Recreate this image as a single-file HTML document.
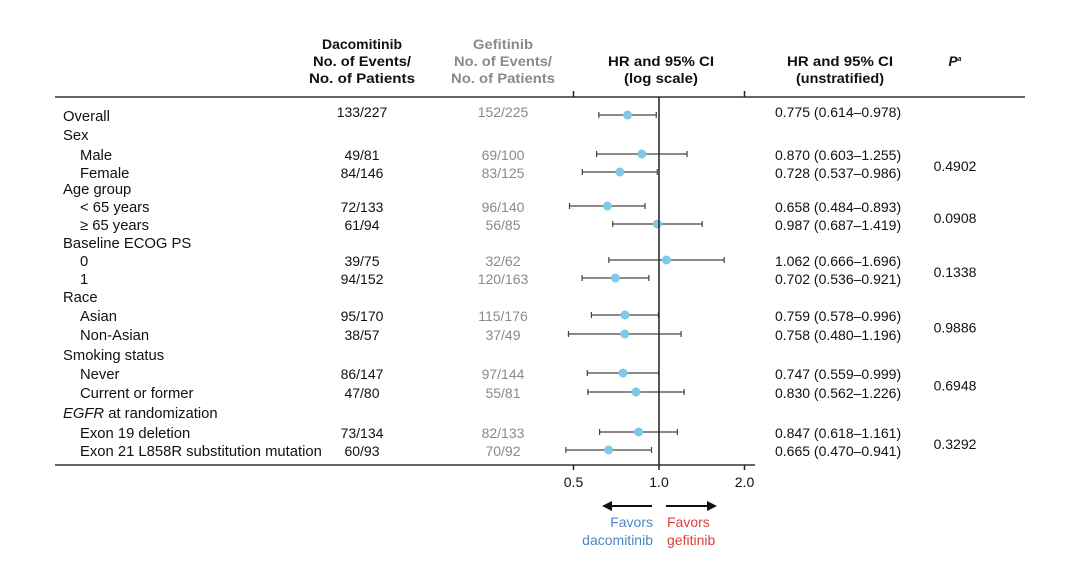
<!DOCTYPE html>
<html><head><meta charset="utf-8"><style>
body{margin:0;background:#fff;}
svg text{font-family:"Liberation Sans",Arial,sans-serif;font-size:14px;fill:#111;}
.lab{font-size:14.8px;}
.h{font-weight:bold;text-anchor:middle;font-size:13.5px;}
.g{fill:#8a8a8a;}
.c{text-anchor:middle;}
</style></head><body>
<svg id="chart" width="1080" height="566">
<g>
<text class="h" x="362" y="49" textLength="80" lengthAdjust="spacingAndGlyphs">Dacomitinib</text>
<text class="h" x="362" y="66" textLength="98" lengthAdjust="spacingAndGlyphs">No. of Events/</text>
<text class="h" x="362" y="83" textLength="106" lengthAdjust="spacingAndGlyphs">No. of Patients</text>
<text class="h g" x="503" y="49" textLength="60" lengthAdjust="spacingAndGlyphs">Gefitinib</text>
<text class="h g" x="503" y="66" textLength="98" lengthAdjust="spacingAndGlyphs">No. of Events/</text>
<text class="h g" x="503" y="83" textLength="104" lengthAdjust="spacingAndGlyphs">No. of Patients</text>
<text class="h" x="661" y="66" textLength="106" lengthAdjust="spacingAndGlyphs">HR and 95% CI</text>
<text class="h" x="661" y="83" textLength="74" lengthAdjust="spacingAndGlyphs">(log scale)</text>
<text class="h" x="840" y="66" textLength="106" lengthAdjust="spacingAndGlyphs">HR and 95% CI</text>
<text class="h" x="840" y="83" textLength="88" lengthAdjust="spacingAndGlyphs">(unstratified)</text>
<text class="h" x="955" y="66" style="font-style:italic">P<tspan font-size="7" dy="-5">a</tspan></text>
</g>
<line x1="55" y1="97" x2="1025" y2="97" stroke="#333" stroke-width="1.5"/>
<line x1="55" y1="465" x2="755" y2="465" stroke="#333" stroke-width="1.5"/>
<g id="rows"></g>
<g id="axis"></g>
<g>
<line x1="610" y1="506" x2="652" y2="506" stroke="#111" stroke-width="2"/>
<polygon points="602,506 612,501 612,511" fill="#111"/>
<line x1="666" y1="506" x2="708" y2="506" stroke="#111" stroke-width="2"/>
<polygon points="717,506 707,501 707,511" fill="#111"/>
<text x="653" y="527" text-anchor="end" style="fill:#4a86c5">Favors</text>
<text x="653" y="545" text-anchor="end" style="fill:#4a86c5">dacomitinib</text>
<text x="667" y="527" style="fill:#d9403a">Favors</text>
<text x="667" y="545" style="fill:#d9403a">gefitinib</text>
</g>
</svg>
<script>
const labels=["Overall","Sex","Male","Female","Age group","< 65 years","\u2265 65 years","Baseline ECOG PS","0","1","Race","Asian","Non-Asian","Smoking status","Never","Current or former","EGFR at randomization","Exon 19 deletion","Exon 21 L858R substitution mutation"];
const dacoCounts=["133/227","","49/81","84/146","","72/133","61/94","","39/75","94/152","","95/170","38/57","","86/147","47/80","","73/134","60/93"];
const gefiCounts=["152/225","","69/100","83/125","","96/140","56/85","","32/62","120/163","","115/176","37/49","","97/144","55/81","","82/133","70/92"];
const hr=[0.775,null,0.870,0.728,null,0.658,0.987,null,1.062,0.702,null,0.759,0.758,null,0.747,0.830,null,0.847,0.665];
const lo=[0.614,null,0.603,0.537,null,0.484,0.687,null,0.666,0.536,null,0.578,0.480,null,0.559,0.562,null,0.618,0.470];
const hi=[0.978,null,1.255,0.986,null,0.893,1.419,null,1.696,0.921,null,0.996,1.196,null,0.999,1.226,null,1.161,0.941];
const pvals=["0.4902","0.0908","0.1338","0.9886","0.6948","0.3292"];
const ticks=[0.5,1.0,2.0];
const rowY=[117,136,156,174,190,208,226,244,262,280,298,317,336,356,375,394,414,434,452];
const isHeader=[false,true,false,false,true,false,false,true,false,false,true,false,false,true,false,false,true,false,false];
const NS="http://www.w3.org/2000/svg";
const x=v=>659+85.5*Math.log2(v);
const rows=document.getElementById('rows'),axis=document.getElementById('axis');
function mk(tag,attrs,parent){const e=document.createElementNS(NS,tag);for(const k in attrs)e.setAttribute(k,attrs[k]);parent.appendChild(e);return e;}
function fmt(v){return v.toFixed(3);}
labels.forEach((lab,i)=>{
 const y=rowY[i];
 const t=mk('text',{x:(i===0||isHeader[i])?63:80,y:y+4,class:'lab'},rows);
 
 
 if(lab.startsWith("EGFR")){const s=mk('tspan',{'font-style':'italic'},t);s.textContent="EGFR";t.appendChild(document.createTextNode(" at randomization"));}
 else t.textContent=lab;
 if(hr[i]==null)return;
 const d=mk('text',{x:362,y:y+(i===0?0:4),class:'c'},rows);d.textContent=dacoCounts[i];
 
 
 const g=mk('text',{x:503,y:y+(i===0?0:4),class:'c g'},rows);g.textContent=gefiCounts[i];
 
 
 const ci=mk('g',{},rows);
 
 
 mk('line',{x1:x(lo[i]),x2:x(hi[i]),y1:y-2,y2:y-2,stroke:'#444','stroke-width':1.2},ci);
 mk('line',{x1:x(lo[i]),x2:x(lo[i]),y1:y-5,y2:y+1,stroke:'#444','stroke-width':1.2},ci);
 mk('line',{x1:x(hi[i]),x2:x(hi[i]),y1:y-5,y2:y+1,stroke:'#444','stroke-width':1.2},ci);
 const p=mk('circle',{cx:x(hr[i]),cy:y-2,r:4.5,fill:'#7ec8e8'},rows);
 
 
 const h=mk('text',{x:775,y:y+(i===0?0:4)},rows);h.textContent=fmt(hr[i])+" ("+fmt(lo[i])+"\u2013"+fmt(hi[i])+")";
 
 
});
[3,6,9,12,15,18].forEach((r,k)=>{
 const t=mk('text',{x:955,y:(rowY[r-1]+rowY[r])/2+6,class:'c'},rows);t.textContent=pvals[k];
 
 
});
const ref=mk('line',{x1:x(1),x2:x(1),y1:97,y2:465,stroke:'#222','stroke-width':1.5},axis);


ticks.forEach(v=>{
 if(v!==1){mk('line',{x1:x(v),x2:x(v),y1:91,y2:97,stroke:'#222','stroke-width':1.5},axis);}
 mk('line',{x1:x(v),x2:x(v),y1:465,y2:470,stroke:'#222','stroke-width':1.5},axis);
 const t=mk('text',{x:x(v),y:487,class:'c'},axis);t.textContent=v.toFixed(1);
 
 
});
</script>
</body></html>
